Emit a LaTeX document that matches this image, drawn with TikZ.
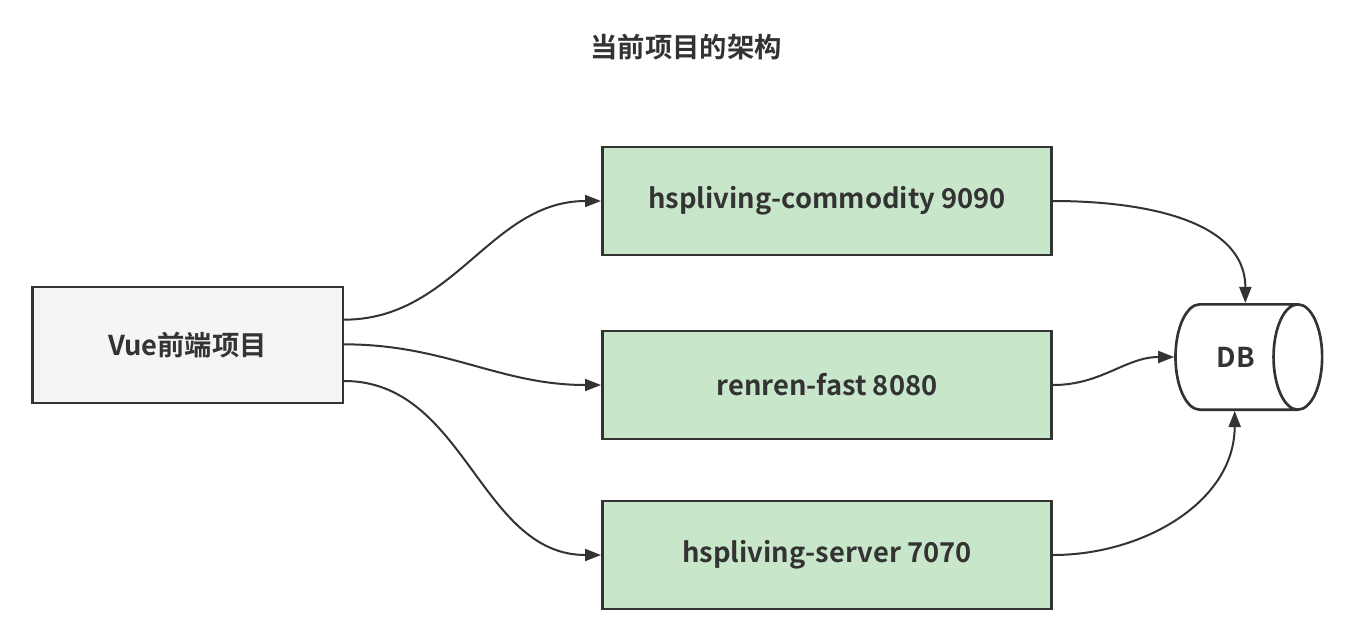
\documentclass[tikz,border=0pt]{standalone}
\usepackage{fontspec}
\setmainfont{Noto Sans CJK SC}[BoldFont={* Bold}]
\usetikzlibrary{shapes.geometric,arrows.meta}
\definecolor{linegray}{HTML}{333333}
\definecolor{boxgreen}{HTML}{C8E6C9}
\definecolor{boxgray}{HTML}{F5F5F5}

\begin{document}
\begin{tikzpicture}[x=0.75pt, y=-0.75pt, font=\bfseries\fontsize{20.5}{24}\selectfont, text=linegray,
	svc/.style={draw=linegray, line width=2pt, fill=boxgreen, minimum width=337pt, minimum height=81pt},
	front/.style={draw=linegray, line width=2pt, fill=boxgray, minimum width=233pt, minimum height=87pt},
	conn/.style={draw=linegray, line width=1.5pt, -{Triangle[length=12pt,width=9pt]}}]
		\useasboundingbox (0,0) rectangle (1350,640);
		\node (title) at (686,47) {当前项目的架构};

		\node[front] (vue) at (187.5,345) {Vue前端项目};
		\node[svc] (commodity) at (827,201) {hspliving-commodity 9090};
		\node[svc] (renren) at (827,385) {renren-fast 8080};
		\node[svc] (server) at (827,555) {hspliving-server 7070};
		\node[draw=linegray, line width=2pt, fill=white, shape=cylinder, aspect=2.4,
			minimum width=79pt, minimum height=110pt, inner sep=0pt] (db) at (1236,357) {DB};

		\draw[conn] ([yshift=19pt]vue.east) to[out=0, in=180] (commodity.west);
		\draw[conn] ([yshift=0.5pt]vue.east) to[out=0, in=180] (renren.west);
		\draw[conn] ([yshift=-27pt]vue.east) to[out=0, in=180] (server.west);
		\draw[conn] (commodity.east) to[out=0, in=90] ([xshift=7pt]db.north);
		\draw[conn] (renren.east) to[out=0, in=180] (db.west);
		\draw[conn] (server.east) to[out=0, in=-90] ([xshift=-1pt]db.south);
	\end{tikzpicture}
\end{document}
